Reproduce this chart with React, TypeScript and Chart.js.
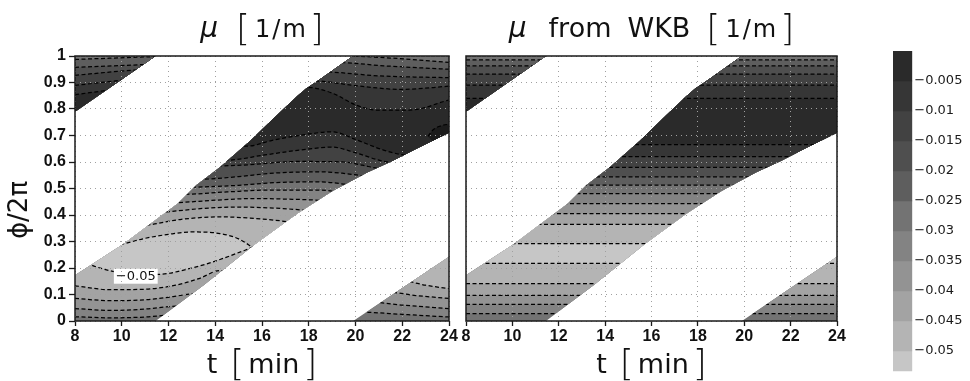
import React, { useEffect, useRef } from 'react';
import { Chart, registerables } from 'chart.js';

Chart.register(...registerables);

// ---------- axes ----------
const tTickValues = [8, 10, 12, 14, 16, 18, 20, 22, 24];
const tTickLabels = ['8', '10', '12', '14', '16', '18', '20', '22', '24'];
const phiTickValues = [0, 0.1, 0.2, 0.3, 0.4, 0.5, 0.6, 0.7, 0.8, 0.9, 1];
const phiTickLabels = ['0', '0.1', '0.2', '0.3', '0.4', '0.5', '0.6', '0.7', '0.8', '0.9', '1'];

// ---------- gray levels (index 0: > 0, 1: 0..-0.005, ..., 11: < -0.05) ----------
const grayLevels = ['#1b1b1b', '#2a2a2a', '#363636', '#424242', '#4f4f4f', '#5e5e5e', '#737373', '#838383', '#939393', '#a3a3a3', '#b4b4b4', '#c6c6c6'];

// ---------- colorbar ----------
const cbEdges = [0, -0.005, -0.01, -0.015, -0.02, -0.025, -0.03, -0.035, -0.04, -0.045, -0.05, -0.055];
const cbTickValues = [-0.005, -0.01, -0.015, -0.02, -0.025, -0.03, -0.035, -0.04, -0.045, -0.05];
const cbTickLabels = ['\u22120.005', '\u22120.01', '\u22120.015', '\u22120.02', '\u22120.025', '\u22120.03', '\u22120.035', '\u22120.04', '\u22120.045', '\u22120.05'];

// ---------- valid strip (repeats with period 1 in phi) ----------
const stripLowerT = [8, 11.45, 13.5, 15.7, 17.5, 19, 20.5, 21.6, 22.5, 24];
const stripLowerPhi = [-0.21, 0, 0.135, 0.29, 0.405, 0.49, 0.56, 0.605, 0.645, 0.71];
const stripUpperT = [8, 10.1, 11.2, 12.4, 13.2, 14.2, 15.5, 16.5, 17.5, 17.9, 18.2, 18.8, 19.3, 19.9, 22, 24];
const stripUpperPhi = [0.173, 0.292, 0.365, 0.443, 0.513, 0.58, 0.68, 0.765, 0.848, 0.878, 0.895, 0.932, 0.963, 1.0, 1.125, 1.242];

// ---------- mu contour lines (bottom to top), [t, phi] ----------
type P = [number, number];
const muN030a: P[] = [[8, 0.016], [9.5, 0.012], [11, 0.015], [12, 0.022], [20.3, 0.033], [22, 0.025], [24, 0.015]];
const muN035a: P[] = [[8, 0.047], [9.5, 0.04], [11, 0.045], [12.3, 0.056], [20.8, 0.07], [22, 0.06], [24, 0.047]];
const muN040a: P[] = [[8, 0.085], [9.5, 0.077], [11, 0.08], [12.2, 0.092], [13, 0.102], [21.5, 0.108], [22.5, 0.097], [24, 0.085]];
const muN045a: P[] = [[8, 0.133], [9.5, 0.118], [11, 0.12], [12.3, 0.135], [13.3, 0.16], [14.2, 0.19], [22.2, 0.15], [23, 0.135], [24, 0.122]];
const muN050a: P[] = [[8, 0.245], [8.6, 0.215], [9.5, 0.19], [10.5, 0.178], [11.5, 0.176], [13, 0.2], [14.2, 0.232], [15.3, 0.268], [16, 0.29], [24, 0.3]];
const muN050b: P[] = [[8, 0.27], [9.9, 0.288], [11, 0.312], [12, 0.327], [13, 0.336], [14.2, 0.33], [15, 0.31], [15.5, 0.283], [16, 0.25], [17, 0.31], [24, 0.32]];
const muN045b: P[] = [[8, 0.35], [11.1, 0.362], [12.5, 0.383], [14.2, 0.393], [15.5, 0.388], [16.8, 0.378], [17.5, 0.37], [24, 0.365]];
const muN040b: P[] = [[8, 0.4], [11.9, 0.412], [13.5, 0.425], [14.9, 0.43], [16.5, 0.426], [17.8, 0.418], [18.5, 0.41], [24, 0.405]];
const muN035b: P[] = [[8, 0.44], [12.45, 0.447], [14, 0.456], [15.6, 0.462], [17, 0.46], [18.5, 0.455], [19, 0.45], [24, 0.445]];
const muN030b: P[] = [[8, 0.475], [12.7, 0.478], [14.5, 0.487], [16.3, 0.494], [18.5, 0.494], [19.2, 0.488], [20, 0.48], [24, 0.478]];
const muN025b: P[] = [[8, 0.5], [13.1, 0.505], [15, 0.512], [16.5, 0.522], [18.5, 0.525], [19.6, 0.516], [20.5, 0.51], [24, 0.51]];
const muN020b: P[] = [[8, 0.53], [13.5, 0.535], [15, 0.545], [16.5, 0.558], [18.5, 0.563], [19.5, 0.557], [20.3, 0.548], [21, 0.54], [24, 0.54]];
const muN015b: P[] = [[8, 0.57], [14.3, 0.585], [15.5, 0.59], [17.5, 0.602], [19.5, 0.6], [20.3, 0.588], [21, 0.576], [24, 0.575]];
const muN010b: P[] = [[8, 0.6], [14.6, 0.607], [16, 0.625], [17.6, 0.645], [19, 0.656], [20, 0.635], [21, 0.607], [21.6, 0.597], [24, 0.59]];
const muN005b: P[] = [[8, 0.655], [15.4, 0.66], [16.5, 0.683], [17.6, 0.7], [19, 0.714], [20, 0.685], [21.2, 0.645], [22.2, 0.625], [24, 0.62]];
const muN005c: P[] = [[8, 0.854], [9, 0.866], [9.6, 0.872], [17.9, 0.882], [19, 0.86], [20, 0.816], [20.9, 0.796], [22.3, 0.796], [24, 0.834]];
const muN010c: P[] = [[8, 0.889], [9.9, 0.908], [10.3, 0.912], [18.3, 0.906], [20, 0.888], [22, 0.874], [24, 0.886]];
const muN015c: P[] = [[8, 0.927], [10.4, 0.946], [10.9, 0.948], [18.8, 0.94], [21, 0.925], [24, 0.918]];
const muN020c: P[] = [[8, 0.957], [10.8, 0.967], [11.3, 0.969], [19.3, 0.975], [21.2, 0.963], [24, 0.95]];
const muN025c: P[] = [[8, 0.987], [11.2, 0.997], [11.6, 0.998], [19.7, 0.999], [21.9, 0.99], [24, 0.976]];
const muLines = [muN030a, muN035a, muN040a, muN045a, muN050a, muN050b, muN045b, muN040b, muN035b, muN030b, muN025b, muN020b, muN015b, muN010b, muN005b, muN005c, muN010c, muN015c, muN020c, muN025c];
// gray index of the band below the first line, then above each line
const bandGray = [6, 7, 8, 9, 10, 11, 10, 9, 8, 7, 6, 5, 4, 3, 2, 1, 2, 3, 4, 5, 6];

// small positive region at the right edge
const muPosTop: P[] = [[23.1, 0.697], [23.3, 0.72], [23.6, 0.735], [24.2, 0.745]];
const muPosBottom: P[] = [[23.1, 0.697], [23.3, 0.68], [24.2, 0.672]];

// inline label on the left field
const muLabelT = 10.6;
const muLabelPhi = 0.169;
const muLabelText = '\u22120.05';

// ---------- WKB contour positions (horizontal), bottom to top ----------
const wkbPhi = [0.028, 0.063, 0.097, 0.141, 0.217, 0.292, 0.365, 0.405, 0.443, 0.481, 0.513, 0.544, 0.58, 0.62, 0.666, 0.84, 0.89, 0.932, 0.963, 0.985];

// ---------- helpers ----------
type Piece = { text: string; font: string; gap?: number; dy?: number };
const BR = '200 36px "DejaVu Sans"';
const TXT = '24px "DejaVu Sans"';
const BIG = '27px "DejaVu Sans"';
const MU = 'italic 28px "DejaVu Sans"';

const leftTitle: Piece[] = [
  { text: '\u03bc', font: MU, gap: 18 },
  { text: '[', font: BR, gap: 5, dy: 3 },
  { text: '1', font: TXT, gap: 2 },
  { text: '/', font: TXT, gap: 2 },
  { text: 'm', font: TXT, gap: 4 },
  { text: ']', font: BR, dy: 3 },
];
const rightTitle: Piece[] = [
  { text: '\u03bc', font: MU, gap: 22 },
  { text: 'from', font: BIG, gap: 16 },
  { text: 'WKB', font: BIG, gap: 16 },
  { text: '[', font: BR, gap: 5, dy: 3 },
  { text: '1', font: TXT, gap: 2 },
  { text: '/', font: TXT, gap: 2 },
  { text: 'm', font: TXT, gap: 4 },
  { text: ']', font: BR, dy: 3 },
];
const xTitle: Piece[] = [
  { text: 't', font: BIG, gap: 13 },
  { text: '[', font: BR, gap: 4, dy: 2 },
  { text: 'min', font: BIG, gap: 4 },
  { text: ']', font: BR, dy: 2 },
];

function drawRich(ctx: CanvasRenderingContext2D, pieces: Piece[], cx: number, baseY: number) {
  ctx.save();
  ctx.textAlign = 'left';
  ctx.textBaseline = 'alphabetic';
  ctx.fillStyle = '#111';
  const ws = pieces.map((p) => {
    ctx.font = p.font;
    return ctx.measureText(p.text).width;
  });
  let total = 0;
  pieces.forEach((p, i) => {
    total += ws[i] + (i < pieces.length - 1 ? p.gap ?? 0 : 0);
  });
  let x = cx - total / 2;
  pieces.forEach((p, i) => {
    ctx.font = p.font;
    ctx.fillText(p.text, x, baseY + (p.dy ?? 0));
    x += ws[i] + (p.gap ?? 0);
  });
  ctx.restore();
}

const toXY = (pts: P[]) => pts.map(([x, y]) => ({ x, y }));

function buildDatasets(lines: P[][], withPos: boolean) {
  const ds: any[] = [];
  const common = { pointRadius: 0, borderColor: 'rgba(0,0,0,0)', borderWidth: 0, cubicInterpolationMode: 'monotone' };
  ds.push({ ...common, data: toXY([[8, 0], [24, 0]]), fill: 'end', backgroundColor: grayLevels[bandGray[0]], order: 1000 });
  lines.forEach((ln, i) => {
    ds.push({ ...common, data: toXY(ln), fill: 'end', backgroundColor: grayLevels[bandGray[i + 1]], order: 999 - i });
  });
  if (withPos) {
    const idx = ds.length;
    ds.push({ ...common, data: toXY(muPosTop), fill: idx + 1, backgroundColor: grayLevels[0], order: 500 });
    ds.push({ ...common, data: toXY(muPosBottom), fill: false, order: 501 });
  }
  const dashed = { pointRadius: 0, borderColor: '#000', borderWidth: 1.25, borderDash: [4, 2.5], fill: false, cubicInterpolationMode: 'monotone', order: 0 };
  lines.forEach((ln) => ds.push({ ...dashed, data: toXY(ln) }));
  if (withPos) ds.push({ ...dashed, data: toXY(muPosTop) });
  return ds;
}

function stripPlugin(title: Piece[], withLabel: boolean, withYTitle: boolean) {
  return {
    id: 'strip',
    beforeDatasetsDraw(chart: any) {
      const { ctx, scales } = chart;
      const x = scales.x;
      const y = scales.y;
      ctx.save();
      ctx.beginPath();
      for (const k of [-1, 0, 1]) {
        stripLowerT.forEach((t, i) => {
          const px = x.getPixelForValue(t);
          const py = y.getPixelForValue(stripLowerPhi[i] + k);
          if (i === 0) ctx.moveTo(px, py);
          else ctx.lineTo(px, py);
        });
        for (let i = stripUpperT.length - 1; i >= 0; i--) {
          ctx.lineTo(x.getPixelForValue(stripUpperT[i]), y.getPixelForValue(stripUpperPhi[i] + k));
        }
        ctx.closePath();
      }
      ctx.clip();
    },
    afterDatasetsDraw(chart: any) {
      const { ctx, scales } = chart;
      ctx.restore();
      if (withLabel) {
        const cx = scales.x.getPixelForValue(muLabelT);
        const cy = scales.y.getPixelForValue(muLabelPhi);
        ctx.save();
        ctx.font = '13px "DejaVu Sans"';
        const w = ctx.measureText(muLabelText).width + 4;
        ctx.fillStyle = '#fff';
        ctx.fillRect(cx - w / 2, cy - 7.5, w, 15);
        ctx.fillStyle = '#111';
        ctx.textAlign = 'center';
        ctx.textBaseline = 'middle';
        ctx.fillText(muLabelText, cx, cy + 0.5);
        ctx.restore();
      }
    },
    afterDraw(chart: any) {
      const { ctx, chartArea: a } = chart;
      ctx.save();
      ctx.strokeStyle = '#1a1a1a';
      ctx.lineWidth = 1.5;
      ctx.strokeRect(a.left, a.top, a.right - a.left, a.bottom - a.top);
      ctx.restore();
      const cx = (a.left + a.right) / 2;
      drawRich(ctx, title, cx, 37);
      drawRich(ctx, xTitle, cx, 373);
      if (withYTitle) {
        ctx.save();
        ctx.translate(27, 210);
        ctx.rotate(-Math.PI / 2);
        ctx.font = '26px "DejaVu Sans"';
        ctx.fillStyle = '#111';
        ctx.textAlign = 'center';
        ctx.textBaseline = 'alphabetic';
        ctx.fillText('\u03d5/2\u03c0', 0, 0);
        ctx.restore();
      }
    },
  };
}

function fieldConfig(lines: P[][], opts: { withPos: boolean; title: Piece[]; yLabels: boolean; yWidth: number; padRight: number }) {
  const tickFont = { family: '"Liberation Sans", Arial, sans-serif', weight: 'bold' as const, size: 16 };
  return {
    type: 'line' as const,
    data: { datasets: buildDatasets(lines, opts.withPos) },
    options: {
      responsive: false,
      animation: false as const,
      events: [] as any[],
      layout: { padding: { left: 0, top: 56, right: opts.padRight, bottom: 0 } },
      plugins: { legend: { display: false }, tooltip: { enabled: false } },
      scales: {
        x: {
          type: 'linear' as const,
          min: 8,
          max: 24,
          afterBuildTicks: (s: any) => {
            s.ticks = tTickValues.map((v) => ({ value: v }));
          },
          afterFit: (s: any) => {
            s.height = 60;
          },
          ticks: { font: tickFont, color: '#111', padding: 1, maxRotation: 0, autoSkip: false, callback: (_v: any, i: number) => tTickLabels[i] ?? '' },
          grid: { color: '#a0a0a0', lineWidth: 1, z: 1, tickColor: '#1a1a1a', tickLength: 5, tickWidth: 1.3, tickBorderDash: [6, 0] },
          border: { display: false, dash: [1, 4] },
        },
        y: {
          type: 'linear' as const,
          min: 0,
          max: 1,
          afterBuildTicks: (s: any) => {
            s.ticks = phiTickValues.map((v) => ({ value: v }));
          },
          afterFit: (s: any) => {
            s.width = opts.yWidth;
          },
          ticks: { display: opts.yLabels, font: tickFont, color: '#111', padding: 3, autoSkip: false, callback: (_v: any, i: number) => phiTickLabels[i] ?? '' },
          grid: { color: '#a0a0a0', lineWidth: 1, z: 1, drawTicks: opts.yLabels, tickColor: '#1a1a1a', tickLength: 6, tickWidth: 1.3, tickBorderDash: [6, 0] },
          border: { display: false, dash: [1, 4] },
        },
      },
    },
    plugins: [stripPlugin(opts.title, opts.withPos, opts.yLabels)],
  };
}

function colorbarConfig() {
  return {
    type: 'bar' as const,
    data: {
      labels: [''],
      datasets: cbEdges.slice(0, -1).map((hi, i) => ({
        data: [[cbEdges[i + 1], hi]],
        backgroundColor: grayLevels[i + 1],
        borderWidth: 0,
        barPercentage: 1,
        categoryPercentage: 1,
        grouped: false,
      })),
    },
    options: {
      responsive: false,
      animation: false as const,
      events: [] as any[],
      layout: { padding: { left: 13, top: 51, right: 0, bottom: 0 } },
      plugins: { legend: { display: false }, tooltip: { enabled: false } },
      scales: {
        x: { display: false },
        y: {
          position: 'right' as const,
          min: -0.0534,
          max: 0,
          afterBuildTicks: (s: any) => {
            s.ticks = cbTickValues.map((v) => ({ value: v }));
          },
          afterFit: (s: any) => {
            s.width = 57.7;
          },
          ticks: { font: { family: '"DejaVu Sans"', size: 13 }, color: '#1a1a1a', padding: 2, autoSkip: false, callback: (_v: any, i: number) => cbTickLabels[i] ?? '' },
          grid: { display: false, drawTicks: false },
          border: { display: false },
        },
      },
    },
  };
}

export default function App() {
  const leftRef = useRef<HTMLCanvasElement>(null);
  const rightRef = useRef<HTMLCanvasElement>(null);
  const cbRef = useRef<HTMLCanvasElement>(null);

  useEffect(() => {
    const wkbLines: P[][] = wkbPhi.map((c) => [[8, c], [24, c]] as P[]);
    const c1 = new Chart(leftRef.current as HTMLCanvasElement, fieldConfig(muLines, { withPos: true, title: leftTitle, yLabels: true, yWidth: 75, padRight: 11 }) as any);
    const c2 = new Chart(rightRef.current as HTMLCanvasElement, fieldConfig(wkbLines, { withPos: false, title: rightTitle, yLabels: false, yWidth: 26, padRight: 23 }) as any);
    const c3 = new Chart(cbRef.current as HTMLCanvasElement, colorbarConfig() as any);
    return () => {
      c1.destroy();
      c2.destroy();
      c3.destroy();
    };
  }, []);

  return (
    <div style={{ position: 'absolute', left: 0, top: 0, width: 970, height: 381, background: '#fff', overflow: 'hidden' }}>
      <canvas ref={leftRef} width={460} height={381} style={{ position: 'absolute', left: 0, top: 0 }} />
      <canvas ref={rightRef} width={420} height={381} style={{ position: 'absolute', left: 440, top: 0 }} />
      <canvas ref={cbRef} width={90} height={381} style={{ position: 'absolute', left: 880, top: 0 }} />
    </div>
  );
}
